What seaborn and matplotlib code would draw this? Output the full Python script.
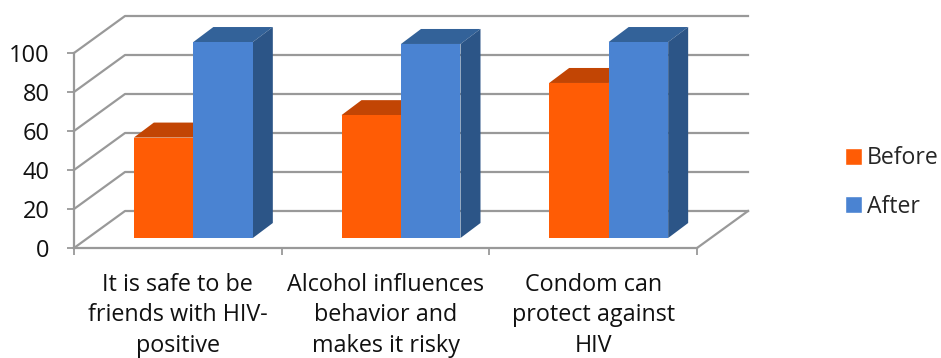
import matplotlib
matplotlib.use("Agg")
import matplotlib.pyplot as plt
from matplotlib.patches import Polygon
import pandas as pd
import seaborn as sns

categories = ["It is safe to be\nfriends with HIV-\npositive",
              "Alcohol influences\nbehavior and\nmakes it risky",
              "Condom can\nprotect against\nHIV"]
before = [51.5, 63, 79.5]
after = [100.5, 99.5, 100.5]
y_ticks = [0, 20, 40, 60, 80, 100]

FACE = {"Before": "#FF5C05", "After": "#4A83D2"}
TOP = {"Before": "#C24504", "After": "#336299"}
SIDE = {"Before": "#C24504", "After": "#2C5587"}
GRID = "#999999"
INK = "#111111"

W, H = 941, 358
X0, X1, Y0, Y100 = 74, 697, 248, 53
px_x = (X1 - X0) / 3
px_y = (Y0 - Y100) / 100

# Depth of the pseudo-3D box, of the bars, and the bars' inset from the front edge
wall_dx, wall_dy = 51 / px_x, 37 / px_y
bar_dx, bar_dy = 20 / px_x, 15 / px_y
inset_dx, inset_dy = 15.5 / px_x, 10 / px_y

sns.set_theme(style="white")
plt.rcParams["font.family"] = ["Open Sans", "DejaVu Sans"]

frame = pd.DataFrame({
    "category": categories * 2,
    "series": ["Before"] * 3 + ["After"] * 3,
    "value": before + after,
})

fig = plt.figure(figsize=(W / 100, H / 100), dpi=100)
ax = fig.add_axes([X0 / W, 1 - Y0 / H, (X1 - X0) / W, (Y0 - Y100) / H])

sns.barplot(data=frame, x="category", y="value", hue="series", palette=FACE,
            hue_order=["Before", "After"], width=0.573, gap=0, saturation=1,
            ax=ax, zorder=3, legend=True)

ax.set_xlim(-0.5, 2.5)
ax.set_ylim(0, 100)
ax.set_xlabel("")
ax.set_ylabel("")

# Back wall, side wall and floor
xl, xr = ax.get_xlim()
line = dict(color=GRID, lw=1.6, clip_on=False, zorder=1, solid_capstyle="projecting")
for v in y_ticks:
    ax.plot([xl, xl + wall_dx, xr + wall_dx], [v, v + wall_dy, v + wall_dy], **line)
ax.plot([xr, xr + wall_dx], [0, wall_dy], **line)

# Lift each bar off the floor and extrude its top and side faces
series_order = ["Before"] * 3 + ["After"] * 3
bars = [p for p in ax.patches if p.get_height() > 0]
for patch, name in zip(bars, series_order):
    patch.set_x(patch.get_x() + inset_dx)
    patch.set_y(inset_dy)
    patch.set_clip_on(False)
    patch.set_edgecolor("none")
    left = patch.get_x()
    right = left + patch.get_width()
    low = patch.get_y()
    high = low + patch.get_height()
    z = 2 if name == "Before" else 2.5
    patch.set_zorder(z + 0.1)
    ax.add_patch(Polygon([(left, high), (right, high),
                          (right + bar_dx, high + bar_dy), (left + bar_dx, high + bar_dy)],
                         closed=True, fc=TOP[name], ec="none", clip_on=False, zorder=z))
    ax.add_patch(Polygon([(right, low), (right + bar_dx, low + bar_dy),
                          (right + bar_dx, high + bar_dy), (right, high)],
                         closed=True, fc=SIDE[name], ec="none", clip_on=False, zorder=z))

for side in ("top", "right"):
    ax.spines[side].set_visible(False)
for side in ("left", "bottom"):
    ax.spines[side].set_color(GRID)
    ax.spines[side].set_linewidth(1.6)
    ax.spines[side].set_zorder(1)

ax.set_yticks(y_ticks)
ax.set_xticks([-0.5, 0.5, 1.5, 2.5], labels=[])
ax.tick_params(axis="both", length=5, width=1.3, color=GRID, bottom=True, left=True,
               labelcolor=INK, labelsize=17)
ax.tick_params(axis="y", pad=12.5)

for i, label in enumerate(categories):
    ax.text(i, -12.6, label, ha="center", va="top", fontsize=16.8, color=INK,
            linespacing=1.36, clip_on=False)

sns.move_legend(ax, loc="center left", bbox_to_anchor=(845 / W, 1 - 182.5 / H),
                bbox_transform=fig.transFigure, frameon=False, title=None,
                fontsize=16.6, handlelength=0.72, handleheight=0.72,
                handletextpad=0.24, labelspacing=1.05, borderpad=0, borderaxespad=0)

fig.savefig("out.png", dpi=100, facecolor="white")
